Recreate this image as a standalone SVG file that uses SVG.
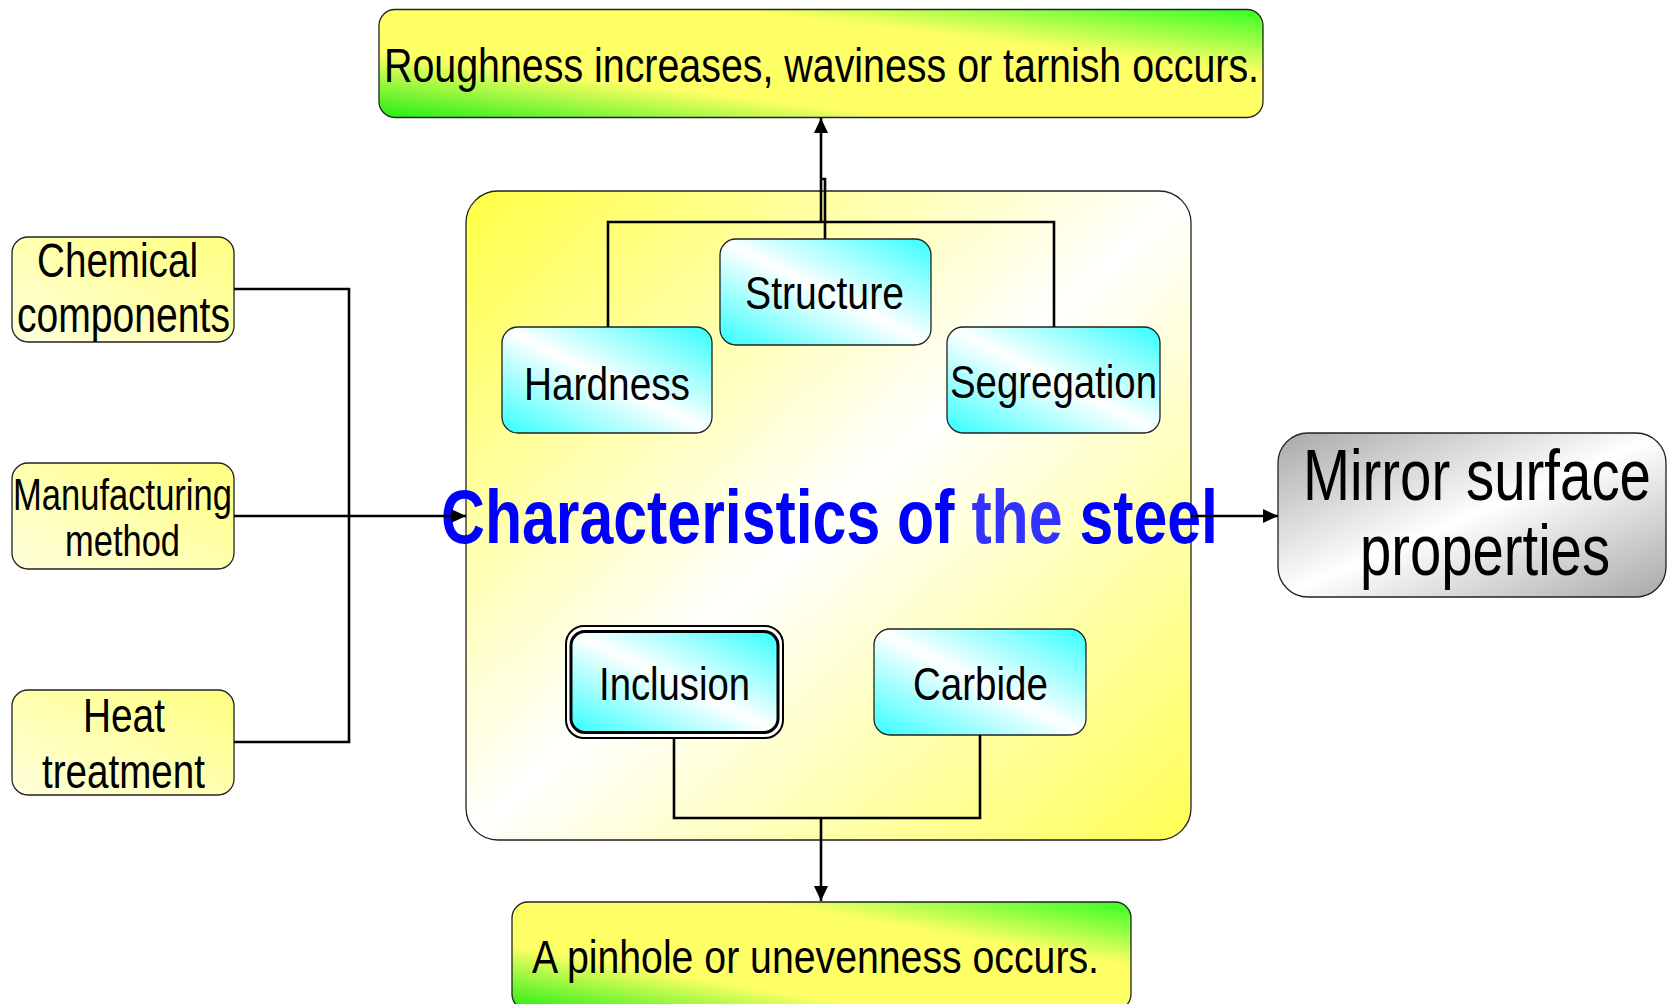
<svg xmlns="http://www.w3.org/2000/svg" width="1667" height="1004" viewBox="0 0 1667 1004">
<style>
text{font-family:"Liberation Sans",Arial,sans-serif;fill:#000}
.box{stroke:#222;stroke-width:1.3}
.conn{fill:none;stroke:#000;stroke-width:2.6}
.title{font-weight:bold;fill:#0000ff}
</style>
<defs>
<linearGradient id="gGreen" x1="0" y1="1" x2="1" y2="0">
<stop offset="0" stop-color="#22ee11"/><stop offset="0.3" stop-color="#ffff66"/><stop offset="0.7" stop-color="#ffff66"/><stop offset="1" stop-color="#33ff22"/>
</linearGradient>
<linearGradient id="gCyan" x1="0" y1="1" x2="1" y2="0">
<stop offset="0" stop-color="#33ffff"/><stop offset="0.5" stop-color="#ffffff"/><stop offset="1" stop-color="#33ffff"/>
</linearGradient>
<linearGradient id="gBig" x1="0" y1="0" x2="1" y2="1">
<stop offset="0" stop-color="#ffff44"/><stop offset="0.5" stop-color="#ffffff"/><stop offset="1" stop-color="#ffff55"/>
</linearGradient>
<linearGradient id="gGray" x1="0" y1="0" x2="1" y2="1">
<stop offset="0" stop-color="#a8a8a8"/><stop offset="0.5" stop-color="#ffffff"/><stop offset="1" stop-color="#a8a8a8"/>
</linearGradient>
<linearGradient id="gPale" x1="1" y1="0" x2="0" y2="1">
<stop offset="0" stop-color="#ffff80"/><stop offset="1" stop-color="#ffffdd"/>
</linearGradient>
<marker id="arr" markerUnits="userSpaceOnUse" markerWidth="16" markerHeight="14" refX="15" refY="7" orient="auto">
<path d="M0,0 L15,7 L0,14 z" fill="#000"/>
</marker>
</defs>

<g id="result-top">
<rect class="box" x="379" y="9.5" width="884" height="108" rx="16" fill="url(#gGreen)"/>
<text x="384" y="82" font-size="48" textLength="875" lengthAdjust="spacingAndGlyphs">Roughness increases, waviness or tarnish occurs.</text>
</g>

<g id="chemical">
<rect class="box" x="12" y="237" width="222" height="105" rx="16" fill="url(#gPale)"/>
<text x="37" y="277" font-size="48" textLength="161" lengthAdjust="spacingAndGlyphs">Chemical</text>
<text x="17" y="332" font-size="50" textLength="213" lengthAdjust="spacingAndGlyphs">components</text>
</g>
<g id="manufacturing">
<rect class="box" x="12" y="463" width="222" height="106" rx="16" fill="url(#gPale)"/>
<text x="13" y="510" font-size="45" textLength="219" lengthAdjust="spacingAndGlyphs">Manufacturing</text>
<text x="65" y="556" font-size="45" textLength="115" lengthAdjust="spacingAndGlyphs">method</text>
</g>
<g id="heat">
<rect class="box" x="12" y="690" width="222" height="105" rx="16" fill="url(#gPale)"/>
<text x="83" y="732" font-size="48" textLength="82" lengthAdjust="spacingAndGlyphs">Heat</text>
<text x="42" y="788" font-size="48" textLength="163" lengthAdjust="spacingAndGlyphs">treatment</text>
</g>

<g id="steel">
<rect class="box" x="466" y="191" width="725" height="649" rx="32" fill="url(#gBig)"/>
</g>

<g id="hardness">
<rect class="box" x="502" y="327" width="210" height="106" rx="16" fill="url(#gCyan)"/>
<text x="524" y="400" font-size="46" textLength="166" lengthAdjust="spacingAndGlyphs">Hardness</text>
</g>
<g id="structure">
<rect class="box" x="720" y="239" width="211" height="106" rx="16" fill="url(#gCyan)"/>
<text x="745" y="309" font-size="46" textLength="159" lengthAdjust="spacingAndGlyphs">Structure</text>
</g>
<g id="segregation">
<rect class="box" x="947" y="327" width="213" height="106" rx="16" fill="url(#gCyan)"/>
<text x="950" y="398" font-size="46" textLength="207" lengthAdjust="spacingAndGlyphs">Segregation</text>
</g>
<g id="inclusion">
<rect x="566" y="626" width="217" height="112" rx="18" fill="#fff" stroke="#000" stroke-width="2"/>
<rect x="571" y="631.5" width="207" height="101" rx="14" fill="url(#gCyan)" stroke="#000" stroke-width="3"/>
<text x="599" y="700" font-size="46" textLength="151" lengthAdjust="spacingAndGlyphs">Inclusion</text>
</g>
<g id="carbide">
<rect class="box" x="874" y="629" width="212" height="106" rx="16" fill="url(#gCyan)"/>
<text x="913" y="700" font-size="46" textLength="135" lengthAdjust="spacingAndGlyphs">Carbide</text>
</g>

<g id="mirror">
<rect class="box" x="1278" y="433" width="388" height="164" rx="30" fill="url(#gGray)"/>
<text x="1303" y="500" font-size="72" textLength="348" lengthAdjust="spacingAndGlyphs">Mirror surface</text>
<text x="1360" y="575" font-size="72" textLength="250" lengthAdjust="spacingAndGlyphs">properties</text>
</g>

<g id="result-bottom">
<rect class="box" x="512" y="902" width="619" height="108" rx="16" fill="url(#gGreen)"/>
<text x="532" y="973" font-size="47" textLength="567" lengthAdjust="spacingAndGlyphs">A pinhole or unevenness occurs.</text>
</g>

<g id="title">
<text class="title" x="441" y="543" font-size="76" textLength="777" lengthAdjust="spacingAndGlyphs">Characteristics of <tspan fill="#3333ff">the</tspan> steel</text>
</g>

<g id="connectors">
<path class="conn" d="M234,289 H349 V742 H234"/>
<path class="conn" d="M234,516 H466" marker-end="url(#arr)"/>
<path class="conn" d="M608,327 V222 H1054 V327"/>
<path class="conn" d="M825,239 V179 H821"/>
<path class="conn" d="M821,222 V118" marker-end="url(#arr)"/>
<path class="conn" d="M674,738 V818 H980 V735"/>
<path class="conn" d="M821,818 V901" marker-end="url(#arr)"/>
<path class="conn" d="M1191,516 H1278" marker-end="url(#arr)"/>
</g>
</svg>
